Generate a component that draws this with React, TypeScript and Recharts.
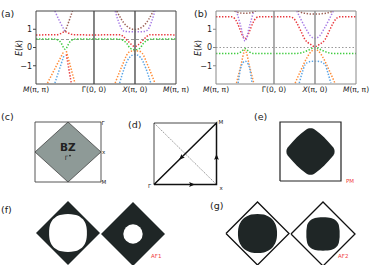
import React from 'react';
import { ComposedChart, Line, Area, Scatter, XAxis, YAxis, ZAxis, ReferenceLine } from 'recharts';

// high-symmetry path, arc length in units of pi: M -> Gamma -> X -> M
const K_TICKS = [0, 1.414, 2.414, 3.414];
const K_LABELS = [['M', '(π, π)'], ['', 'Γ(0, 0)'], ['X', '(π, 0)'], ['M', '(π, π)']];
const E_TICKS = [-1, 0, 1];

// panel (a) bands, [k, E]
const A_RED = [[0, 0.69], [0.5, 0.7], [0.6, 0.76], [0.71, 0.87], [0.82, 0.76], [0.92, 0.7], [1.414, 0.69], [2.05, 0.7], [2.12, 0.62], [2.22, 0.4], [2.32, 0.18], [2.414, 0.05], [2.51, 0.18], [2.61, 0.4], [2.71, 0.62], [2.78, 0.7], [3.414, 0.69]];
const A_GREEN = [[0, 0.46], [0.45, 0.46], [0.55, 0.4], [0.62, 0.22], [0.67, 0.0], [0.71, -0.1], [0.75, 0.0], [0.8, 0.22], [0.87, 0.4], [0.97, 0.46], [1.414, 0.46], [2.0, 0.46], [2.12, 0.4], [2.22, 0.2], [2.3, -0.05], [2.414, -0.12], [2.53, -0.05], [2.61, 0.2], [2.71, 0.4], [2.83, 0.46], [3.414, 0.46]];
const A_PURPLE_L = [[0.46, 2.0], [0.58, 1.42], [0.71, 0.87]];
const A_BROWN_L = [[0.71, 0.87], [0.8, 1.42], [0.89, 2.0]];
const A_ORANGE_L1 = [[0.28, -1.95], [0.68, -0.2]];
const A_BLUE_L1 = [[0.46, -1.95], [0.69, -0.38]];
const A_RED_L2 = [[0.74, -0.38], [0.86, -1.95]];
const A_ORANGE_L2 = [[0.74, -0.2], [0.95, -1.95]];
const A_PURPLE_X = [[1.93, 2.0], [2.0, 1.5], [2.08, 1.05], [2.17, 0.88], [2.414, 0.86], [2.66, 0.88], [2.75, 1.05], [2.83, 1.5], [2.9, 2.0]];
const A_BROWN_X = [[1.97, 2.0], [2.08, 1.55], [2.2, 1.2], [2.414, 0.98], [2.63, 1.2], [2.75, 1.55], [2.86, 2.0]];
const A_ORANGE_X = [[1.93, -1.95], [2.1, -1.0], [2.24, -0.32], [2.32, -0.2], [2.414, -0.19], [2.51, -0.2], [2.59, -0.32], [2.73, -1.0], [2.9, -1.95]];
const A_BLUE_X = [[2.04, -1.95], [2.15, -1.15], [2.28, -0.55], [2.414, -0.38], [2.55, -0.55], [2.68, -1.15], [2.8, -1.95]];

// panel (b) bands, [k, E]
const B_RED = [[0, 1.68], [0.38, 1.68], [0.45, 1.6], [0.52, 1.35], [0.6, 0.9], [0.66, 0.6], [0.71, 0.48], [0.76, 0.6], [0.82, 0.9], [0.9, 1.35], [0.97, 1.6], [1.04, 1.68], [1.414, 1.68], [1.8, 1.68], [1.9, 1.58], [1.97, 1.35], [2.07, 0.9], [2.17, 0.44], [2.3, 0.18], [2.414, 0.05], [2.53, 0.18], [2.66, 0.44], [2.76, 0.9], [2.86, 1.35], [2.93, 1.58], [3.02, 1.68], [3.414, 1.68]];
const B_GREEN = [[0, -0.33], [0.5, -0.33], [0.6, -0.25], [0.66, -0.14], [0.71, -0.06], [0.76, -0.14], [0.82, -0.25], [0.92, -0.33], [1.414, -0.33], [1.95, -0.33], [2.1, -0.28], [2.25, -0.15], [2.414, 0.0], [2.58, -0.15], [2.73, -0.28], [2.88, -0.33], [3.414, -0.33]];
const B_PURPLE_L = [[0.5, 2.0], [0.6, 1.2], [0.71, 0.35], [0.82, 1.2], [0.92, 2.0]];
const B_BROWN_L = [[0.45, 2.0], [0.58, 1.9], [0.71, 1.87], [0.84, 1.9], [0.97, 2.0]];
const B_ORANGE_L = [[0.5, -1.95], [0.6, -1.05], [0.71, -0.15], [0.82, -1.05], [0.92, -1.95]];
const B_BLUE_L = [[0.54, -1.95], [0.6, -1.15], [0.66, -0.82], [0.71, -0.75], [0.76, -0.82], [0.82, -1.15], [0.88, -1.95]];
const B_PURPLE_X = [[1.97, 2.0], [2.08, 1.5], [2.2, 1.0], [2.3, 0.65], [2.414, 0.5], [2.53, 0.65], [2.63, 1.0], [2.75, 1.5], [2.86, 2.0]];
const B_BROWN_X = [[2.0, 2.0], [2.15, 1.88], [2.414, 1.83], [2.68, 1.88], [2.85, 2.0]];
const B_ORANGE_X = [[1.93, -1.95], [2.08, -1.2], [2.22, -0.55], [2.33, -0.2], [2.414, -0.1], [2.5, -0.2], [2.61, -0.55], [2.75, -1.2], [2.9, -1.95]];
const B_BLUE_X = [[2.03, -1.95], [2.1, -1.4], [2.17, -0.95], [2.28, -0.78], [2.414, -0.75], [2.55, -0.78], [2.66, -0.95], [2.73, -1.4], [2.8, -1.95]];

// lower diagrams, unit coordinates [-1, 1]
const SQUARE = [[-1, -1], [1, -1], [1, 1], [-1, 1], [-1, -1]];
const DIAMOND = [[-1, 0], [0, 1], [1, 0], [0, -1], [-1, 0]];
const DIAMOND_FILL = [[-1, 0], [0, 1], [1, 0]]; // [x, half height]
const PATH_SOLID = [[-1, -1], [1, -1], [1, 1], [-1, -1]];
const PATH_OPEN = [[-1, -1], [-1, 1], [1, 1]];
const PATH_DASH = [[-1, 1], [1, -1]];
const PATH_ARROWS = [{ x: 0.2, y: -1, dir: 0 }, { x: 1, y: -0.12, dir: -90 }, { x: -0.12, y: -0.12, dir: 135 }];
const GAMMA_DOT = [{ x: 0.06, y: -0.12 }];
const PM_FS = [[-0.79, 0], [-0.785, 0.049], [-0.77, 0.096], [-0.75, 0.133], [-0.72, 0.169], [-0.17, 0.719], [-0.08, 0.776], [0, 0.79], [0.08, 0.776], [0.17, 0.719], [0.72, 0.169], [0.75, 0.133], [0.77, 0.096], [0.785, 0.049], [0.79, 0]];
const AF1_HOLE = [[-0.59, 0.06], [-0.585, 0.126], [-0.57, 0.218], [-0.54, 0.309], [-0.5, 0.383], [-0.45, 0.444], [-0.4, 0.488], [-0.3, 0.544], [-0.2, 0.574], [0, 0.59], [0.2, 0.574], [0.3, 0.544], [0.4, 0.488], [0.45, 0.444], [0.5, 0.383], [0.54, 0.309], [0.57, 0.218], [0.585, 0.126], [0.59, 0.06]];
const AF1_DOT = [{ x: 0, y: 0 }];
const AF2_BIG = [[-0.62, 0.05], [-0.615, 0.11], [-0.6, 0.199], [-0.57, 0.291], [-0.54, 0.352], [-0.5, 0.412], [-0.45, 0.467], [-0.4, 0.509], [-0.3, 0.566], [-0.2, 0.6], [0, 0.62], [0.2, 0.6], [0.3, 0.566], [0.4, 0.509], [0.45, 0.467], [0.5, 0.412], [0.54, 0.352], [0.57, 0.291], [0.6, 0.199], [0.615, 0.11], [0.62, 0.05]];
const AF2_SMALL = [[-0.52, 0.1], [-0.5, 0.25], [-0.47, 0.333], [-0.43, 0.394], [-0.39, 0.433], [-0.33, 0.471], [-0.25, 0.5], [-0.15, 0.516], [0, 0.52], [0.15, 0.516], [0.25, 0.5], [0.33, 0.471], [0.39, 0.433], [0.43, 0.394], [0.47, 0.333], [0.5, 0.25], [0.52, 0.1]];

const C = { blue: '#5aa5e6', orange: '#ff8a33', green: '#3fcc3f', red: '#e8383d', purple: '#a77be6', brown: '#9b5f55' };
const DARK = '#1f2626';
const FONT = 'DejaVu Sans';

const kp = (a: number[][]) => a.map(([k, e]) => ({ k, e }));
const pts = (a: number[][]) => a.map(([x, y]) => ({ x, y }));
const rng = (a: number[][]) => a.map(([x, h]) => ({ x, r: [-h, h] }));

const KTick = (props: any) => {
  const { x, y, payload } = props;
  const i = K_TICKS.indexOf(payload.value);
  const [head, tail] = K_LABELS[i < 0 ? 0 : i];
  return (
    <text x={x} y={y + 8} textAnchor="middle" fontSize={7.5} fontFamily={FONT} fill="#222">
      {head && <tspan fontStyle="italic">{head}</tspan>}
      {tail}
    </text>
  );
};

const band = (data: number[][], color: string, key: string) => (
  <Line key={key} data={kp(data)} dataKey="e" type="monotone" stroke={color} strokeWidth={1.5}
    strokeDasharray="1.4 1.6" dot={false} activeDot={false} isAnimationActive={false} />
);

const BandPanel = ({ left, width, bands, fermi, frame, cut, fermiDash }: any) => (
  <div style={{ position: 'absolute', left, top: 0 }}>
    <ComposedChart width={width} height={100} margin={{ top: 11, right: width - 176, bottom: 0, left: 0 }}>
      <XAxis type="number" dataKey="k" domain={[0, 3.414]} ticks={K_TICKS} interval={0} allowDataOverflow
        tick={<KTick />} tickLine={false} axisLine={false} tickSize={0} tickMargin={0} height={16} />
      <YAxis type="number" domain={[-2, 2]} ticks={E_TICKS} allowDataOverflow width={36}
        axisLine={false} tickSize={3} tickMargin={1} tickLine={{ stroke: frame }}
        tick={{ fontSize: 8, fill: '#222', fontFamily: FONT }}
        tickFormatter={(v: number) => (v < 0 ? '−' + Math.abs(v) : String(v))} />
      <ReferenceLine y={fermi} stroke="#999" strokeWidth={1.1} strokeDasharray={fermiDash} />
      {bands.map(([d, c]: [number[][], string], i: number) => band(d, c, 'b' + i))}
      <ReferenceLine x={K_TICKS[1]} stroke={cut} strokeWidth={1.6} />
      <ReferenceLine x={K_TICKS[2]} stroke={cut} strokeWidth={1.6} />
      <ReferenceLine x={0} stroke={frame} strokeWidth={1} />
      <ReferenceLine x={3.414} stroke={frame} strokeWidth={1} />
      <ReferenceLine y={2} stroke={frame} strokeWidth={1} />
      <ReferenceLine y={-2} stroke={frame} strokeWidth={1} />
    </ComposedChart>
  </div>
);

const PAD = 3;
const Diagram = ({ box, fixed, children }: { box: number[]; fixed?: boolean; children: React.ReactNode }) => {
  const [l, t, w, h] = box;
  return (
    <div style={{ position: 'absolute', left: l - PAD, top: t - PAD }}>
      <ComposedChart width={w + 2 * PAD} height={h + 2 * PAD} margin={{ top: PAD, right: PAD, bottom: PAD, left: PAD }}>
        <XAxis type="number" dataKey="x" domain={[-1, 1]} allowDataOverflow={!!fixed} hide />
        <YAxis type="number" dataKey="y" domain={[-1, 1]} allowDataOverflow={!!fixed} hide />
        {children}
      </ComposedChart>
    </div>
  );
};

const outline = (data: number[][], stroke: string, width: number, dash?: string) => (
  <Line data={pts(data)} dataKey="y" type="linear" stroke={stroke} strokeWidth={width} strokeDasharray={dash}
    dot={false} activeDot={false} isAnimationActive={false} />
);
const blob = (data: number[][], fill: string, curve: 'monotone' | 'linear' = 'monotone') => (
  <Area data={rng(data)} dataKey="r" type={curve} stroke="none" fill={fill} fillOpacity={1}
    dot={false} activeDot={false} isAnimationActive={false} />
);

const ArrowHead = (p: any) => (
  <path d="M3.4,0 L-2.4,-2.4 L-1.2,0 L-2.4,2.4 Z" transform={`translate(${p.cx},${p.cy}) rotate(${p.payload.dir})`} fill="#111" />
);

const TXT = { fontFamily: FONT, fill: '#222' };

export default function App() {
  const aBands = [
    [A_RED, C.red], [A_GREEN, C.green], [A_PURPLE_L, C.purple], [A_BROWN_L, C.brown],
    [A_ORANGE_L1, C.orange], [A_BLUE_L1, C.blue], [A_RED_L2, C.red], [A_ORANGE_L2, C.orange],
    [A_BROWN_X, C.brown], [A_PURPLE_X, C.purple], [A_ORANGE_X, C.orange], [A_BLUE_X, C.blue],
  ];
  const bBands = [
    [B_RED, C.red], [B_GREEN, C.green], [B_PURPLE_L, C.purple], [B_BROWN_L, C.brown],
    [B_ORANGE_L, C.orange], [B_BLUE_L, C.blue], [B_PURPLE_X, C.purple], [B_BROWN_X, C.brown],
    [B_ORANGE_X, C.orange], [B_BLUE_X, C.blue],
  ];
  return (
    <div style={{ position: 'absolute', left: 0, top: 0, width: 374, height: 265, background: '#fff', overflow: 'hidden', fontFamily: FONT }}>
      <BandPanel left={0} width={196} bands={aBands} fermi={0.44} fermiDash="3 2" frame="#444" cut="#666" />
      <BandPanel left={180} width={194} bands={bBands} fermi={0} fermiDash="1.5 2" frame="#888" cut="#999" />

      {/* (c) Brillouin zone */}
      <Diagram box={[35, 122, 66, 60]}>
        {blob(DIAMOND_FILL, '#8e9a97', 'linear')}
        {outline(DIAMOND, '#444', 0.8)}
        {outline(SQUARE, '#444', 0.9)}
        <Scatter data={GAMMA_DOT} isAnimationActive={false}
          shape={(p: any) => <circle cx={p.cx} cy={p.cy} r={0.9} fill="#222" />} />
      </Diagram>

      {/* (d) path */}
      <Diagram box={[154, 122.5, 62.5, 61.5]}>
        {outline(PATH_DASH, '#555', 0.6, '1.5 1')}
        {outline(PATH_OPEN, '#333', 0.9)}
        {outline(PATH_SOLID, '#111', 1.5)}
        <Scatter data={PATH_ARROWS} isAnimationActive={false} shape={ArrowHead} />
      </Diagram>

      {/* (e) PM Fermi sea */}
      <Diagram box={[280, 122, 61, 59]}>
        {blob(PM_FS, DARK)}
        {outline(SQUARE, '#222', 1.2)}
      </Diagram>

      {/* (f) AF1 */}
      <Diagram box={[36, 201, 64, 64]} fixed>
        {blob(DIAMOND_FILL, DARK, 'linear')}
        {blob(AF1_HOLE, '#fff')}
      </Diagram>
      <Diagram box={[101.3, 201.5, 64, 64]}>
        {blob(DIAMOND_FILL, DARK, 'linear')}
        <ZAxis type="number" range={[296, 296]} />
        <Scatter data={AF1_DOT} fill="#fff" isAnimationActive={false} />
      </Diagram>

      {/* (g) AF2 */}
      <Diagram box={[225.5, 202, 63, 63]}>
        {outline(DIAMOND, '#111', 1.3)}
        {blob(AF2_BIG, DARK)}
      </Diagram>
      <Diagram box={[291, 201.5, 64, 64]}>
        {outline(DIAMOND, '#111', 1.3)}
        {blob(AF2_SMALL, DARK)}
      </Diagram>

      <svg width={374} height={265} style={{ position: 'absolute', left: 0, top: 0, pointerEvents: 'none' }}>
        <text x={1} y={17} fontSize={9.5} {...TXT}>(a)</text>
        <text x={194} y={17} fontSize={9.5} {...TXT}>(b)</text>
        <text transform="translate(21.5,48) rotate(-90)" textAnchor="middle" fontSize={8} {...TXT}>
          <tspan fontStyle="italic">E</tspan>(<tspan fontStyle="italic">k</tspan>)
        </text>
        <text transform="translate(200.5,48) rotate(-90)" textAnchor="middle" fontSize={8} {...TXT}>
          <tspan fontStyle="italic">E</tspan>(<tspan fontStyle="italic">k</tspan>)
        </text>
        <text x={1} y={119.5} fontSize={9.5} {...TXT}>(c)</text>
        <text x={128} y={127.5} fontSize={9.5} {...TXT}>(d)</text>
        <text x={254} y={119.5} fontSize={9.5} {...TXT}>(e)</text>
        <text x={1} y={212.5} fontSize={9.5} {...TXT}>(f)</text>
        <text x={210} y={209} fontSize={9.5} {...TXT}>(g)</text>

        <text x={67.7} y={151} textAnchor="middle" fontSize={10.5} fontWeight="bold" {...TXT}>BZ</text>
        <text x={66.5} y={160} textAnchor="middle" fontSize={6} {...TXT}>Γ</text>
        <text x={101.5} y={124.5} fontSize={5.5} {...TXT}>Γ</text>
        <text x={102} y={153.5} fontSize={5.5} {...TXT}>x</text>
        <text x={101.5} y={184} fontSize={5.5} {...TXT}>M</text>

        <text x={148} y={188} fontSize={5.5} {...TXT}>Γ</text>
        <text x={219.5} y={189.5} fontSize={5.5} {...TXT}>x</text>
        <text x={218.5} y={124} fontSize={5.5} {...TXT}>M</text>

        <text x={346} y={182.5} fontSize={5.5} fontFamily={FONT} fill="#f04040">PM</text>
        <text x={151} y={258} fontSize={5.5} fontFamily={FONT} fill="#f04040">AF1</text>
        <text x={338} y={258} fontSize={5.5} fontFamily={FONT} fill="#f04040">AF2</text>
      </svg>
    </div>
  );
}
